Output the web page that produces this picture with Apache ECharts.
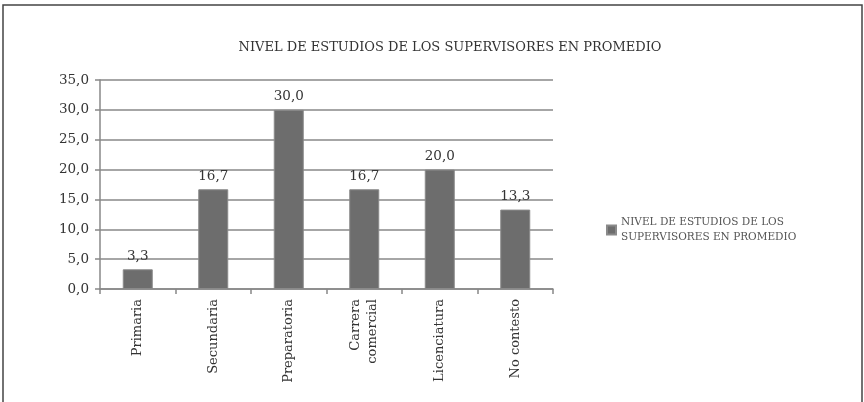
<!DOCTYPE html>
<html>
<head>
<meta charset="utf-8">
<script src="https://cdn.jsdelivr.net/npm/echarts@6/dist/echarts.min.js"></script>
<style>
  html, body { margin: 0; padding: 0; background: #fff; }
  #chart { width: 864px; height: 402px; }
</style>
</head>
<body>
<div id="chart"></div>
<script>
// Nivel de estudios de los supervisores (porcentaje promedio)
const titleText = 'NIVEL DE ESTUDIOS DE LOS SUPERVISORES EN PROMEDIO';
const seriesName = 'NIVEL DE ESTUDIOS DE LOS\nSUPERVISORES EN PROMEDIO';
const categories = ['Primaria', 'Secundaria', 'Preparatoria', 'Carrera\ncomercial', 'Licenciatura', 'No contesto'];
const values = [3.3, 16.7, 30.0, 16.7, 20.0, 13.3];
const yTicks = { min: 0, max: 35, interval: 5 };

const fontFamily = '"DejaVu Serif", "Liberation Serif", serif';
const fmt = v => v.toFixed(1).replace('.', ',');

const chart = echarts.init(document.getElementById('chart'), null, { renderer: 'canvas' });

chart.setOption({
  backgroundColor: '#ffffff',
  animation: false,
  textStyle: { fontFamily: fontFamily, color: '#333' },
  title: {
    text: titleText,
    left: 445,
    top: 36,
    textAlign: 'center',
    textStyle: { fontFamily: fontFamily, fontSize: 13, fontWeight: 'normal', color: '#333' }
  },
  legend: {
    data: [{ name: seriesName, icon: 'rect' }],
    left: 601,
    top: 210,
    itemWidth: 9,
    itemHeight: 9,
    itemGap: 4,
    textStyle: { fontFamily: fontFamily, fontSize: 10.5, color: '#555', lineHeight: 15 }
  },
  grid: { left: 100, right: 311, top: 80, bottom: 113, containLabel: false },
  xAxis: {
    type: 'category',
    data: categories,
    axisLine: { lineStyle: { color: '#888', width: 1.5 } },
    axisTick: { show: true, length: 5, lineStyle: { color: '#888', width: 1.5 } },
    axisLabel: {
      rotate: 90,
      margin: 10,
      fontFamily: fontFamily,
      fontSize: 13,
      color: '#333',
      lineHeight: 17
    }
  },
  yAxis: {
    type: 'value',
    min: yTicks.min,
    max: yTicks.max,
    interval: yTicks.interval,
    axisLine: { show: true, lineStyle: { color: '#888', width: 1.5 } },
    axisTick: { show: true, length: 5, lineStyle: { color: '#888', width: 1.5 } },
    splitLine: { lineStyle: { color: '#888', width: 1.5 } },
    axisLabel: {
      formatter: v => fmt(v),
      margin: 11,
      fontFamily: fontFamily,
      fontSize: 13.5,
      color: '#333'
    }
  },
  series: [{
    name: seriesName,
    type: 'bar',
    data: values,
    barWidth: 30,
    itemStyle: { color: '#6d6d6d', borderColor: '#8a8a8a', borderWidth: 1 },
    label: {
      show: true,
      position: 'top',
      distance: 6,
      formatter: p => fmt(p.value),
      fontFamily: fontFamily,
      fontSize: 13.5,
      color: '#333'
    }
  }],
  graphic: [{
    type: 'polyline',
    silent: true,
    shape: { points: [[3, 402], [3, 5], [862, 5], [862, 402]] },
    style: { stroke: '#444', lineWidth: 1.5, fill: null }
  }]
});
</script>
</body>
</html>
